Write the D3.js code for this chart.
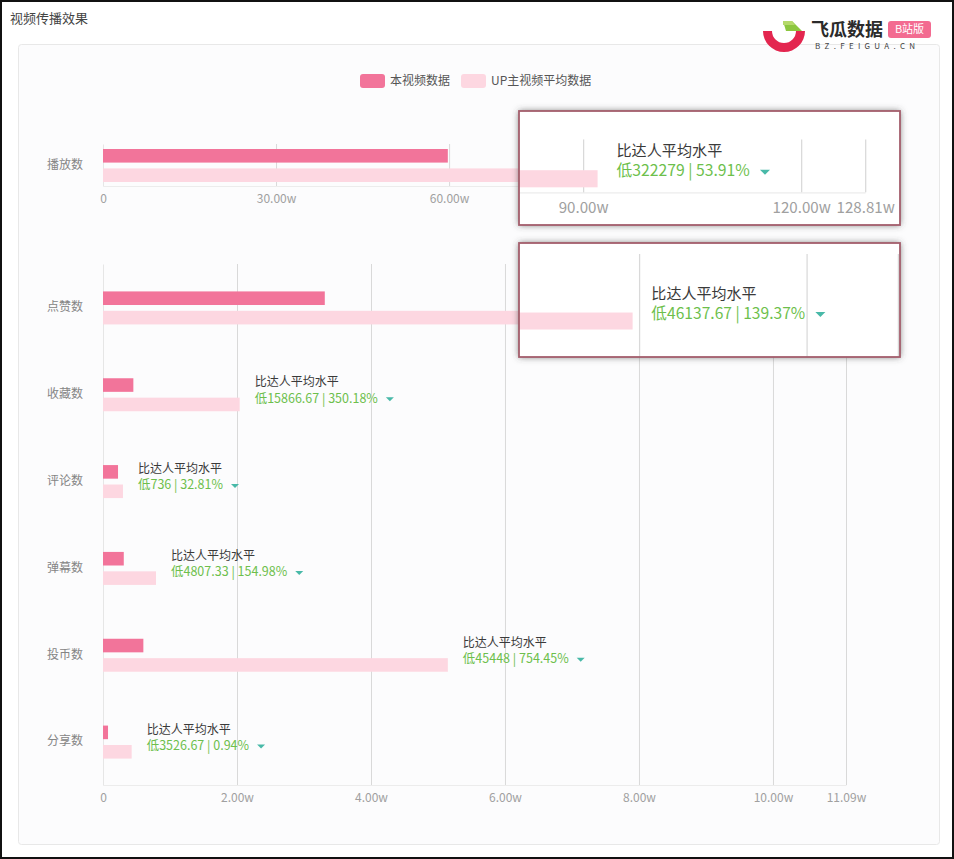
<!DOCTYPE html>
<html>
<head>
<meta charset="utf-8">
<script src="https://cdn.jsdelivr.net/npm/d3@7"></script>
<style>
  html, body { margin: 0; padding: 0; background: #fff; }
  svg { display: block; font-family: 'Noto Sans CJK SC', 'Microsoft YaHei', sans-serif; }
</style>
</head>
<body>
<div id="root"></div>
<script>
// ---- data ----
const topCategories = ['播放数'];
const topThisVideo  = [597810];
const topUpAverage  = [920089];
const topDiffLabels = ['低322279 | 53.91%'];
const topTicks      = [0, 300000, 600000, 900000, 1200000, 1288100];

const categories = ['点赞数', '收藏数', '评论数', '弹幕数', '投币数', '分享数'];
const thisVideo  = [33104, 4531, 2243, 3102, 6024, 750];
const upAverage  = [79242, 20398, 2979, 7909, 51472, 4277];
const diffLabels = [
  '低46137.67 | 139.37%', '低15866.67 | 350.18%', '低736 | 32.81%',
  '低4807.33 | 154.98%', '低45448 | 754.45%', '低3526.67 | 0.94%'
];
const bottomTicks = [0, 20000, 40000, 60000, 80000, 100000, 110900];

const legendLabels = ['本视频数据', 'UP主视频平均数据'];
const annotationTitle = '比达人平均水平';

const COLOR = {
  thisVideo: '#f2749a',
  upAverage: '#fdd7e1',
  grid:      '#d9d9d9',
  axis:      '#ececec',
  tick:      '#a0a0a0',
  label:     '#858585',
  green:     '#6dbf4c',
  teal:      '#48b9a8',
};

const W = 954, H = 859;
const fmtW = v => v === 0 ? '0' : (v / 10000).toFixed(2) + 'w';

const svg = d3.select('#root').append('svg')
  .attr('width', W)
  .attr('height', H);

const defs = svg.append('defs');
defs.append('filter')
  .attr('id', 'shadow')
  .attr('x', '-10%').attr('y', '-20%').attr('width', '120%').attr('height', '140%')
  .append('feDropShadow')
  .attr('dx', 0).attr('dy', 0).attr('stdDeviation', 3.5)
  .attr('flood-color', '#444').attr('flood-opacity', 0.75);

// page background + frame
svg.append('rect').attr('width', W).attr('height', H).attr('fill', '#fff');
svg.append('text')
  .attr('x', 10).attr('y', 18).attr('dy', '0.35em')
  .attr('font-size', 13).attr('fill', '#444')
  .text('视频传播效果');

svg.append('rect')
  .attr('x', 18.5).attr('y', 44.5).attr('width', 921).attr('height', 800)
  .attr('rx', 3)
  .attr('fill', '#fcfcfd').attr('stroke', '#e8e8e8');

// ---- logo ----
const logo = svg.append('g');
logo.append('path')
  .attr('transform', 'translate(784,31)')
  .attr('d', d3.arc()({ innerRadius: 12, outerRadius: 21, startAngle: Math.PI * 0.5, endAngle: Math.PI * 1.5 }))
  .attr('fill', '#e3264f');
logo.append('path').attr('d', 'M783,21 L792,21 L802,31 L786,31 Z').attr('fill', '#8cc63f');
logo.append('path').attr('d', 'M783,21 L792,21 L795,25 L783,25 Z').attr('fill', '#b5d96b');
logo.append('text')
  .attr('x', 811).attr('y', 30).attr('dy', '0.35em')
  .attr('font-size', 18).attr('font-weight', 'bold').attr('fill', '#2b2b2b')
  .text('飞瓜数据');
logo.append('rect')
  .attr('x', 888).attr('y', 21).attr('width', 43).attr('height', 17).attr('rx', 3)
  .attr('fill', '#f36b91');
logo.append('text')
  .attr('x', 909.5).attr('y', 29.5).attr('dy', '0.35em')
  .attr('text-anchor', 'middle')
  .attr('font-size', 11).attr('fill', '#fff')
  .text('B站版');
logo.append('text')
  .attr('x', 815).attr('y', 46).attr('dy', '0.35em')
  .attr('font-size', 8).attr('letter-spacing', 4.3).attr('fill', '#444')
  .text('BZ.FEIGUA.CN');

// ---- legend ----
const legend = svg.append('g');
const legendItems = [
  { label: legendLabels[0], color: COLOR.thisVideo, x: 360 },
  { label: legendLabels[1], color: COLOR.upAverage, x: 461 },
];
const li = legend.selectAll('g').data(legendItems).join('g')
  .attr('transform', d => `translate(${d.x},74)`);
li.append('rect').attr('width', 25).attr('height', 14).attr('rx', 3).attr('fill', d => d.color);
li.append('text')
  .attr('x', 30).attr('y', 7).attr('dy', '0.35em')
  .attr('font-size', 12).attr('fill', '#555')
  .text(d => d.label);

// ---- chart group (referenced by the zoom insets) ----
const chart = svg.append('g').attr('id', 'chart');

function drawBars(g, cats, a, b, labels, ticks, top, bottom) {
  const x = d3.scaleLinear().domain([0, ticks[ticks.length - 1]]).range([103, 846]);
  const y = d3.scaleBand().domain(cats).range([top, bottom]);
  const sub = d3.scaleBand().domain(['this', 'avg']).range([-16, 17]).paddingInner(0.3);

  // x axis with grid lines
  const xAxis = g.append('g')
    .attr('transform', `translate(0,${bottom})`)
    .call(d3.axisBottom(x).tickValues(ticks).tickFormat(fmtW)
      .tickSizeInner(-(bottom - top)).tickSizeOuter(0).tickPadding(8));
  xAxis.select('.domain').attr('stroke', COLOR.axis);
  xAxis.selectAll('.tick line').attr('stroke', d => d === 0 ? 'none' : COLOR.grid);
  xAxis.selectAll('.tick text')
    .attr('fill', COLOR.tick).attr('font-size', 12)
    .attr('font-family', "'Noto Sans CJK SC', sans-serif");

  // y axis
  const yAxis = g.append('g')
    .attr('transform', 'translate(103,0)')
    .call(d3.axisLeft(y).tickSize(0).tickPadding(20));
  yAxis.select('.domain').attr('stroke', '#e6e6e6');
  yAxis.selectAll('.tick text')
    .attr('fill', COLOR.label).attr('font-size', 12)
    .attr('font-family', "'Noto Sans CJK SC', sans-serif");

  const rows = cats.map((c, i) => ({ c, a: a[i], b: b[i], label: labels[i] }));
  const mid = d => y(d.c) + y.bandwidth() / 2;

  g.append('g').selectAll('rect').data(rows).join('rect')
    .attr('x', x(0))
    .attr('y', d => mid(d) + sub('avg'))
    .attr('width', d => x(d.b) - x(0))
    .attr('height', sub.bandwidth())
    .attr('fill', COLOR.upAverage);

  g.append('g').selectAll('rect').data(rows).join('rect')
    .attr('x', x(0))
    .attr('y', d => mid(d) + sub('this'))
    .attr('width', d => x(d.a) - x(0))
    .attr('height', sub.bandwidth())
    .attr('fill', COLOR.thisVideo);

  // annotations next to the average bar
  const ann = g.append('g').selectAll('g').data(rows).join('g')
    .attr('transform', d => `translate(${x(d.b) + 15},${mid(d)})`);
  ann.append('text')
    .attr('y', -12).attr('dy', '0.35em')
    .attr('font-size', 12).attr('fill', '#3a3a3a')
    .text(annotationTitle);
  ann.append('text')
    .attr('class', 'diff')
    .attr('y', 4).attr('dy', '0.35em')
    .attr('font-size', 12.5).attr('fill', COLOR.green)
    .text(d => d.label);
  ann.each(function () {
    const len = d3.select(this).select('.diff').node().getComputedTextLength();
    d3.select(this).append('path')
      .attr('d', `M${len + 8},${3} L${len + 16},${3} L${len + 12},${7} Z`)
      .attr('fill', COLOR.teal);
  });
}

drawBars(chart, topCategories, topThisVideo, topUpAverage, topDiffLabels, topTicks, 144, 186);
drawBars(chart, categories, thisVideo, upAverage, diffLabels, bottomTicks, 264, 785);

// ---- magnified callouts ----
const insets = [
  { x: 519, y: 111, w: 381, h: 114, s: 1.26, tx: -200.9, ty: -42 },
  { x: 519, y: 243, w: 381, h: 114, s: 1.25, tx: -159.75, ty: -76 },
];
insets.forEach((d, i) => {
  defs.append('clipPath').attr('id', `clip${i}`)
    .append('rect').attr('x', d.x).attr('y', d.y).attr('width', d.w).attr('height', d.h);
  svg.append('rect')
    .attr('x', d.x).attr('y', d.y).attr('width', d.w).attr('height', d.h)
    .attr('fill', '#fff').attr('filter', 'url(#shadow)');
  svg.append('g').attr('clip-path', `url(#clip${i})`)
    .append('use')
    .attr('href', '#chart')
    .attr('transform', `translate(${d.tx},${d.ty}) scale(${d.s})`);
  svg.append('rect')
    .attr('x', d.x).attr('y', d.y).attr('width', d.w).attr('height', d.h)
    .attr('fill', 'none').attr('stroke', '#a45e6c').attr('stroke-width', 1.8);
});

// outer dark frame
svg.append('rect')
  .attr('x', 1).attr('y', 1).attr('width', W - 2).attr('height', H - 2)
  .attr('fill', 'none').attr('stroke', '#111').attr('stroke-width', 2);
</script>
</body>
</html>
